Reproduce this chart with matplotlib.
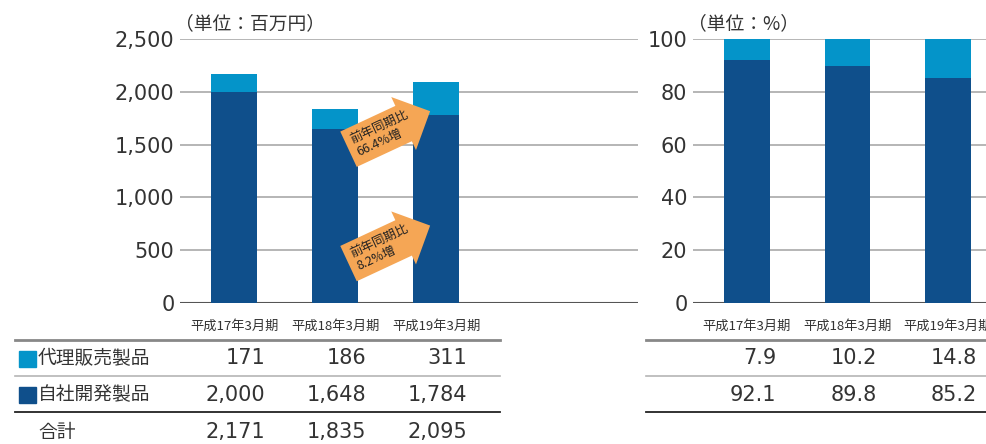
import matplotlib.pyplot as plt
from matplotlib.transforms import blended_transform_factory
from matplotlib.patches import Rectangle
from matplotlib.lines import Line2D

periods = ["平成17年3月期", "平成18年3月期", "平成19年3月期"]
agency = [171, 186, 311]        # 代理販売製品 (百万円)
own = [2000, 1648, 1784]        # 自社開発製品 (百万円)
total = [2171, 1835, 2095]      # 合計
agency_pct = [7.9, 10.2, 14.8]
own_pct = [92.1, 89.8, 85.2]
growth = ["66.4%増", "8.2%増"]   # 前年同期比: 代理販売, 自社開発

DARK = "#0F4F8B"
LIGHT = "#0494C9"
ORANGE = "#F5A655"
TXT = "#333333"
NUM = ["DejaVu Sans", "Noto Sans CJK JP"]
JP = ["Noto Sans CJK JP", "DejaVu Sans"]
plt.rcParams["font.family"] = NUM

fig = plt.figure(figsize=(9.87, 4.44), dpi=100)
ax1 = fig.add_axes([0.1824, 0.3176, 0.4640, 0.5946])
ax2 = fig.add_axes([0.7021, 0.3176, 0.2979, 0.5946])

x = list(range(len(periods)))
w = 0.455


def style(ax, xlim, ticks, fmt):
    ax.set_xlim(*xlim)
    ax.set_ylim(ticks[0], ticks[-1])
    ax.set_yticks(ticks, [fmt(t) for t in ticks])
    ax.set_xticks([])
    for s in ax.spines.values():
        s.set_visible(False)
    ax.tick_params(axis="y", length=0, pad=4, labelsize=15, labelcolor=TXT)
    ax.grid(axis="y", color="#A9A9A9", lw=1.2)
    ax.set_axisbelow(True)
    ax.axhline(0, color="#555555", lw=1.5, zorder=0.6)
    tr = ax.get_xaxis_transform()
    for i, p in enumerate(periods):
        ax.text(i, -0.087, p, transform=tr, ha="center", va="center",
                fontsize=9.5, family=JP, color=TXT)


style(ax1, (-0.535, 4.0), list(range(0, 2501, 500)), lambda t: f"{t:,}")
style(ax2, (-0.537, 2.388), list(range(0, 101, 20)), lambda t: f"{t}")

ax1.bar(x, own, w, color=DARK)
ax1.bar(x, agency, w, bottom=own, color=LIGHT)
ax2.bar(x, own_pct, w, color=DARK)
ax2.bar(x, agency_pct, w, bottom=own_pct, color=LIGHT)

ax1.text(-0.01, 1.057, "（単位：百万円）", transform=ax1.transAxes, family=JP,
         fontsize=13.5, color=TXT, ha="left", va="center")
ax2.text(-0.016, 1.057, "（単位：%）", transform=ax2.transAxes, family=JP,
         fontsize=13.5, color=TXT, ha="left", va="center")

# growth arrows
for yy, g in zip([1606, 523], growth):
    ax1.text(1.47, yy, "前年同期比\n" + g, rotation=25, rotation_mode="anchor",
             ha="center", va="center", multialignment="left", fontsize=9,
             family=JP, color="#222222", linespacing=1.05,
             bbox=dict(boxstyle="rarrow,pad=0.5", fc=ORANGE, ec="none"))

# table below
rows_y = [0.194, 0.110, 0.027]
tr1 = blended_transform_factory(ax1.transData, fig.transFigure)
for vals, yy in zip([agency, own, total], rows_y):
    for i, v in zip(x, vals):
        ax1.text(i + 0.31, yy, f"{v:,}", transform=tr1, ha="right", va="center",
                 fontsize=15, color=TXT)
tr2 = blended_transform_factory(ax2.transData, fig.transFigure)
for vals, yy in zip([agency_pct, own_pct], rows_y):
    for i, v in zip(x, vals):
        ax2.text(i + 0.29, yy, f"{v:.1f}", transform=tr2, ha="right", va="center",
                 fontsize=15, color=TXT)

W, H = 987, 444
for lab, yy, col in [("代理販売製品", 359, LIGHT), ("自社開発製品", 395, DARK)]:
    fig.patches.append(Rectangle((19 / W, 1 - (yy + 8) / H), 17 / W, 16 / H,
                                 transform=fig.transFigure, color=col))
    fig.text(38 / W, 1 - yy / H, lab, family=JP, fontsize=13.5, color=TXT, va="center")
fig.text(38 / W, rows_y[2], "合計", family=JP, fontsize=13.5, color=TXT, va="center")

for x0, x1 in [(15, 500), (646, 987)]:
    for yy, col, lw in [(340, "#888888", 2), (376, "#B5B5B5", 1.2), (412, "#222222", 1.3)]:
        fig.add_artist(Line2D([x0 / W, x1 / W], [1 - yy / H] * 2, color=col, lw=lw,
                              transform=fig.transFigure))

fig.savefig("out.png", dpi=100)
